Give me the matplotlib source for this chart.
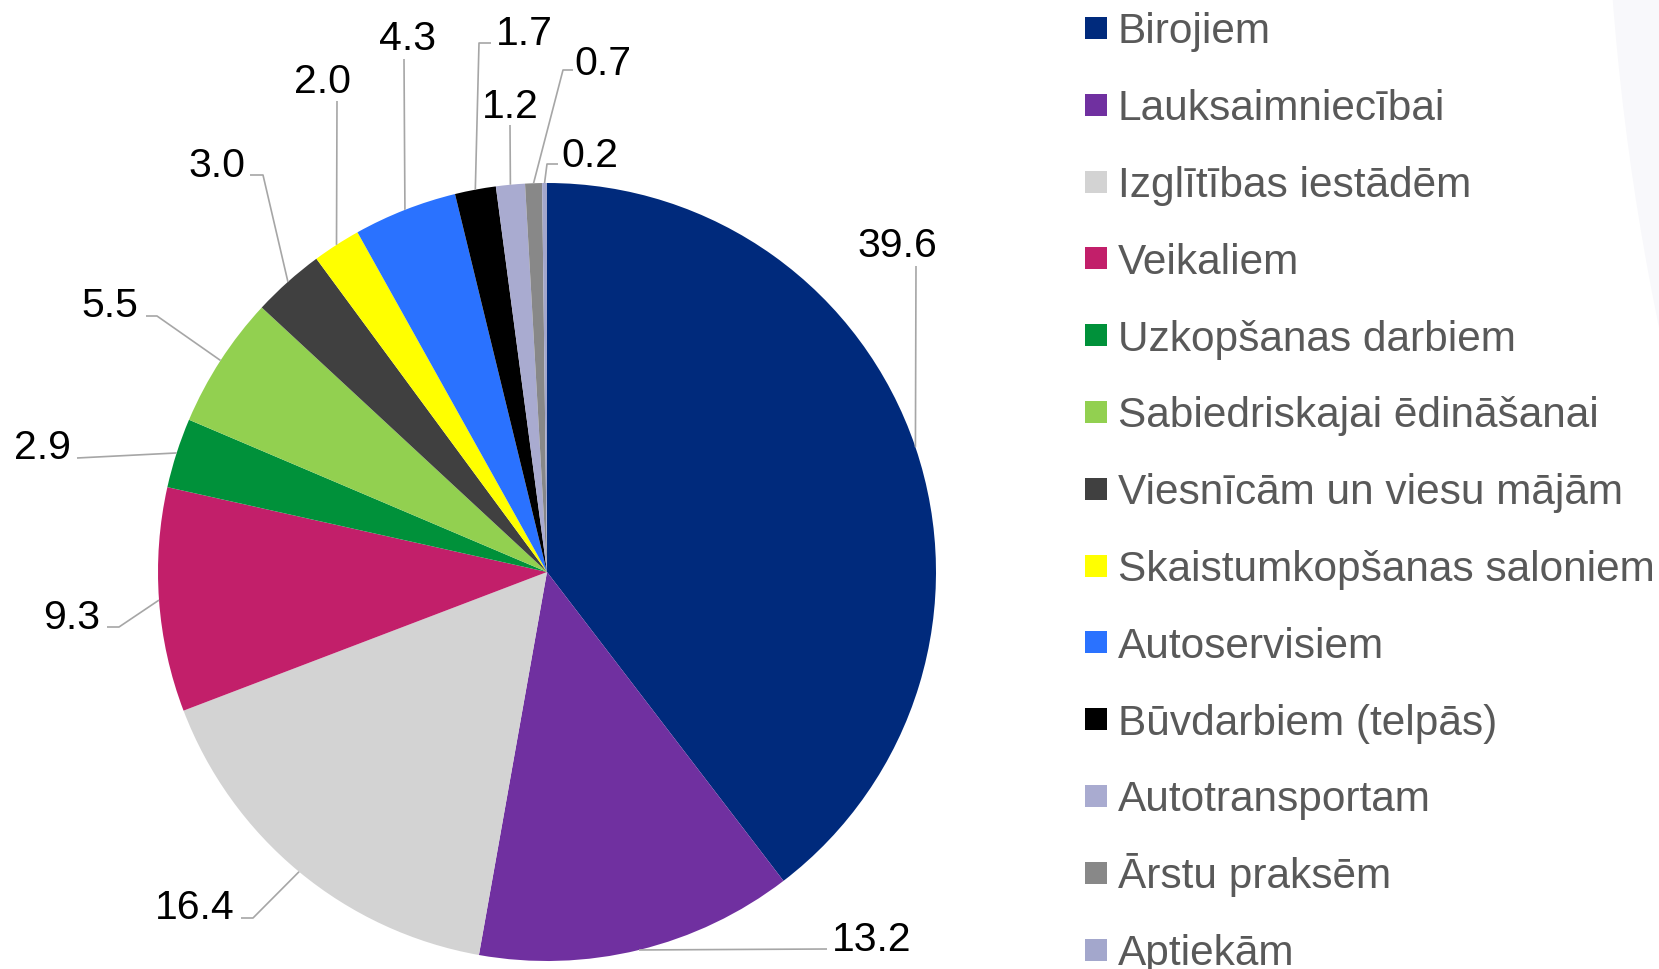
import numpy as np
import matplotlib
matplotlib.use("Agg")
import matplotlib.pyplot as plt
from matplotlib.patches import Rectangle, Circle

categories = ["Birojiem", "Lauksaimniecībai", "Izglītības iestādēm", "Veikaliem",
              "Uzkopšanas darbiem", "Sabiedriskajai ēdināšanai", "Viesnīcām un viesu mājām",
              "Skaistumkopšanas saloniem", "Autoservisiem", "Būvdarbiem (telpās)",
              "Autotransportam", "Ārstu praksēm", "Aptiekām"]
values = [39.6, 13.2, 16.4, 9.3, 2.9, 5.5, 3.0, 2.0, 4.3, 1.7, 1.2, 0.7, 0.2]
value_labels = ["39.6", "13.2", "16.4", "9.3", "2.9", "5.5", "3.0", "2.0", "4.3", "1.7", "1.2", "0.7", "0.2"]
colors = ["#002A7C", "#7030A0", "#D3D3D3", "#C21F6A", "#00913A", "#92D050", "#404040",
          "#FFFF00", "#2A72FF", "#000000", "#A9ABD0", "#888888", "#A3A7CC"]

W, H = 1659, 970
fig = plt.figure(figsize=(W / 100, H / 100), dpi=100)
ax = fig.add_axes([0, 0, 1, 1])

def P(x, y):
    return (x, H - y)

cx, cy, R = 547, 573, 389
wedges, _ = ax.pie(values, colors=colors, startangle=90, counterclock=False,
                   center=P(cx, cy), radius=R, wedgeprops=dict(linewidth=0))
ax.set_xlim(0, W)
ax.set_ylim(0, H)
ax.set_aspect("equal")
ax.axis("off")

# faint background arc (top right)
ax.add_patch(Circle(P(4218, -200), 2613, color="#F8F8FB", zorder=0, linewidth=0))

# label layout: leader path after the edge point, text anchor (x, baseline), ha
layout = [
    ([(916, 267)], (897, 257), "center"),
    ([(827, 950)], (872, 951), "center"),
    ([(253, 919), (241, 919)], (195, 919), "center"),
    ([(119, 628), (107, 628)], (72, 629), "center"),
    ([(77, 459)], (42, 459), "center"),
    ([(157, 317), (146, 317)], (110, 317), "center"),
    ([(263, 176), (250, 176)], (217, 177), "center"),
    ([(337, 102)], (322, 93), "center"),
    ([(404, 60)], (407, 50), "center"),
    ([(479, 44), (491, 44)], (524, 45), "center"),
    ([(510, 126)], (510, 118), "center"),
    ([(563, 71), (573, 71)], (603, 75), "center"),
    ([(547, 165), (558, 165)], (590, 167), "center"),
]

for w, lab, (path, tpos, ha) in zip(wedges, value_labels, layout):
    ang = np.deg2rad((w.theta1 + w.theta2) / 2)
    ex, ey = w.center[0] + w.r * np.cos(ang), w.center[1] + w.r * np.sin(ang)
    pts = [(ex, ey)] + [P(*p) for p in path]
    xs, ys = zip(*pts)
    ax.plot(xs, ys, color="#A6A6A6", lw=1.2, solid_capstyle="butt", zorder=3)
    ax.text(*P(*tpos), lab, ha=ha, va="baseline", fontsize=29.5,
            family="Liberation Sans", color="black", zorder=4)

# legend (manual)
y0, dy = 29, 76.8
for i, (name, col) in enumerate(zip(categories, colors)):
    yc = y0 + i * dy
    ax.add_patch(Rectangle(P(1085, yc + 11), 22, 22, color=col, linewidth=0))
    ax.text(*P(1118, yc + 14.5), name, ha="left", va="baseline", fontsize=30.5,
            family="Liberation Sans", color="#595959")

fig.savefig("out.png", dpi=100)
